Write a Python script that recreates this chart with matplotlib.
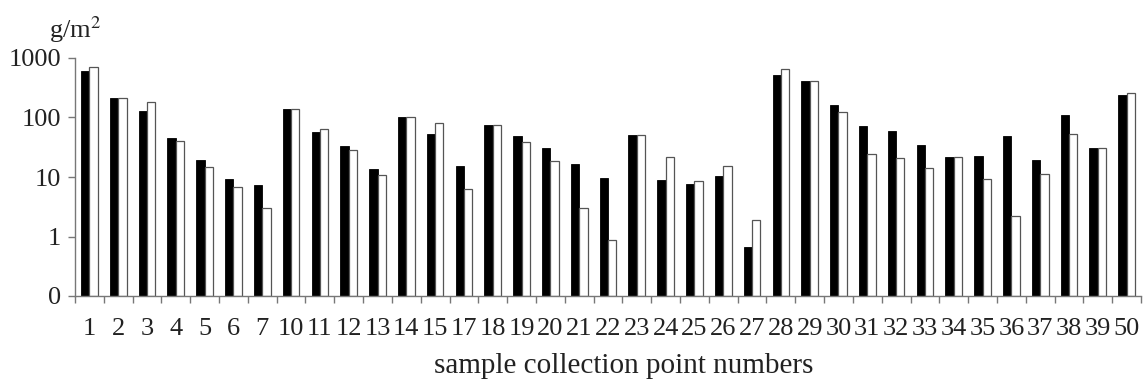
import matplotlib.pyplot as plt
import numpy as np
from matplotlib.ticker import FixedLocator, NullLocator

plt.rcParams['font.family'] = ['Liberation Serif', 'DejaVu Serif']

# sample collection points
points = ['1', '2', '3', '4', '5', '6', '7', '10', '11', '12', '13', '14', '15', '17',
          '18', '19', '20', '21', '22', '23', '24', '25', '26', '27', '28', '29', '30',
          '31', '32', '33', '34', '35', '36', '37', '38', '39', '50']

# black bars
black_vals = [596, 212, 131, 46, 19.2, 9.2, 7.3, 140, 57, 33.4, 13.5, 101, 53, 15.6,
              74.5, 48, 31.3, 16.6, 9.8, 50.6, 8.9, 7.6, 10.3, 0.665, 509, 403, 162,
              72.5, 60.4, 34.7, 22, 22.9, 48, 19.6, 110, 31.3, 238]
# white bars
white_vals = [695, 212, 179, 40, 14.6, 6.7, 3.0, 140, 65, 28.3, 10.6, 101, 82, 6.2,
              74.5, 38.5, 18.4, 3.0, 0.87, 50.6, 21.5, 8.6, 15.2, 1.87, 653, 403, 126,
              24.5, 21.2, 14.1, 22, 9.2, 2.2, 11.4, 52.6, 31.3, 261]

yticks = [0.1, 1, 10, 100, 1000]
ytick_labels = ['0', '1', '10', '100', '1000']

fig = plt.figure(figsize=(11.47, 3.9), dpi=100)
ax = fig.add_axes([75 / 1147, 94 / 390, 1066 / 1147, 238 / 390])

x = np.arange(len(points))
w = 0.29
base = 0.1  # the "0" of the log axis
ax.bar(x - w / 2, np.array(black_vals) - base, w, bottom=base,
       color='black', edgecolor='black', linewidth=0.6)
ax.bar(x + w / 2, np.array(white_vals) - base, w, bottom=base,
       color='white', edgecolor='#555555', linewidth=0.9)

ax.set_yscale('log')
ax.set_ylim(0.1, 1000)
ax.set_xlim(-0.5, len(points) - 0.5)

ax.set_yticks(yticks)
ax.set_yticklabels(ytick_labels)
ax.yaxis.set_minor_locator(NullLocator())

ax.set_xticks(x)
ax.set_xticklabels(points)
ax.xaxis.set_minor_locator(FixedLocator(np.arange(len(points) + 1) - 0.5))

for s in ['top', 'right']:
    ax.spines[s].set_visible(False)
for s in ['left', 'bottom']:
    ax.spines[s].set_color('#777777')
    ax.spines[s].set_linewidth(1.0)

ax.tick_params(axis='y', which='major', length=5, width=1.0, color='#777777',
               labelsize=19, pad=5)
ax.tick_params(axis='x', which='major', length=0, labelsize=19, pad=16)
ax.tick_params(axis='x', which='minor', length=5, width=1.0, color='#777777')
for lab in ax.get_xticklabels() + ax.get_yticklabels():
    lab.set_color('#222222')

# x label, centred a little right of the axes middle like the original
ax.set_xlabel('sample collection point numbers', fontsize=21, color='#222222', va='center')
ax.xaxis.set_label_coords((624 - 75) / 1066, -(366 - 296) / 238)

fig.text(75 / 1147, 1 - 30 / 390, 'g/m$^2$', fontsize=19, ha='center', va='center', color='#222222',
         math_fontfamily='stix')

fig.savefig('out.png', dpi=100)
